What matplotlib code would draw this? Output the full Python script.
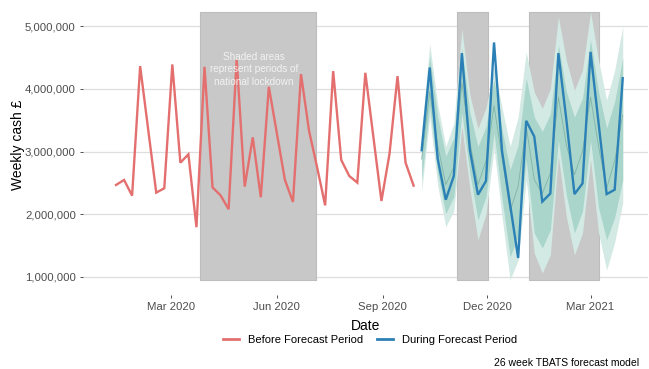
#*******************************************************************************
#plot.py
#*******************************************************************************
#Weekly cash before and during a 26 week TBATS forecast period, with national
#lockdown periods shaded.

import numpy
import pandas
import matplotlib
matplotlib.use('Agg')
import matplotlib.pyplot as plt
import matplotlib.ticker as mticker
from matplotlib.lines import Line2D

plt.rcParams['font.family']=['Liberation Sans','DejaVu Sans']


#*******************************************************************************
#Data (values in millions of pounds, weekly)
#*******************************************************************************
YS_before_start='2020-01-13'
ZV_before=[2.466,2.546,2.296,4.363,3.350,2.344,2.413,4.390,2.822,2.955,
           1.792,4.351,2.427,2.300,2.079,4.469,2.440,3.226,2.270,4.033,
           3.290,2.546,2.195,4.235,3.330,2.750,2.140,4.283,2.865,2.610,
           2.503,4.256,3.230,2.211,2.960,4.203,2.822,2.455]

YS_during_start='2020-10-05'
ZV_during=[3.02,4.34,2.88,2.23,2.61,4.57,3.02,2.31,2.53,4.74,
           3.00,2.15,1.30,3.49,3.24,2.20,2.33,4.57,3.50,2.32,
           2.49,4.59,3.45,2.32,2.39,4.17]
ZV_mean  =[2.88,3.95,3.10,2.47,2.75,4.10,3.15,2.47,2.85,3.73,
           2.90,2.05,2.45,3.40,2.55,2.33,2.65,3.87,3.10,2.63,
           3.00,3.87,3.08,2.41,2.85,3.58]
ZV_lo95  =[2.36,3.55,2.45,1.80,2.05,3.40,2.40,1.59,2.00,3.05,
           1.95,0.95,1.27,2.55,1.38,1.06,1.35,2.92,1.95,1.35,
           1.70,2.87,1.70,1.11,1.55,2.18]
ZV_lo80  =[2.55,3.72,2.65,2.01,2.28,3.62,2.65,1.91,2.28,3.30,
           2.25,1.32,1.65,2.87,1.70,1.46,1.75,3.18,2.30,1.70,
           2.05,3.18,2.10,1.59,1.95,2.55]
ZV_hi80  =[3.18,4.52,3.55,2.92,3.22,4.65,3.62,3.08,3.40,4.15,
           3.35,2.71,3.10,4.17,3.55,3.32,3.60,4.70,3.95,3.55,
           3.85,4.78,3.95,3.37,3.80,4.49]
ZV_hi95  =[3.32,4.72,3.75,3.08,3.45,4.96,3.90,3.37,3.70,4.35,
           3.70,3.08,3.55,4.59,3.95,3.69,4.00,5.15,4.45,3.98,
           4.30,5.23,4.45,3.82,4.30,4.99]

YV_lock_start=['2020-03-26','2020-11-05','2021-01-06']
YV_lock_end  =['2020-07-05','2020-12-02','2021-03-08']

YV_tick_dates=['2020-03-01','2020-06-01','2020-09-01','2020-12-01','2021-03-01']
YV_tick_labels=['Mar 2020','Jun 2020','Sep 2020','Dec 2020','Mar 2021']


#*******************************************************************************
#Build series
#*******************************************************************************
DV_before=pandas.date_range(YS_before_start,periods=len(ZV_before),freq='7D')
DV_during=pandas.date_range(YS_during_start,periods=len(ZV_during),freq='7D')

ZV_before=numpy.array(ZV_before)*1e6
ZV_during=numpy.array(ZV_during)*1e6
ZV_mean=numpy.array(ZV_mean)*1e6
ZV_lo95=numpy.array(ZV_lo95)*1e6
ZV_lo80=numpy.array(ZV_lo80)*1e6
ZV_hi80=numpy.array(ZV_hi80)*1e6
ZV_hi95=numpy.array(ZV_hi95)*1e6

ZS_ymin=min(ZV_lo95.min(),ZV_before.min())
ZS_ymax=max(ZV_hi95.max(),ZV_before.max())


#*******************************************************************************
#Plot
#*******************************************************************************
fig=plt.figure(figsize=(6.49,3.69),dpi=100)
ax=fig.add_axes([82.7/649,74/369,565.3/649,297/369])

for JS in range(len(YV_lock_start)):
     ax.fill_between([pandas.Timestamp(YV_lock_start[JS]),
                      pandas.Timestamp(YV_lock_end[JS])],
                     ZS_ymin,ZS_ymax,facecolor='#C8C8C8',edgecolor='#BDBDBD',
                     linewidth=0.8,zorder=1)

ax.fill_between(DV_during,ZV_lo95,ZV_hi95,color='#D3E9E4',linewidth=0,zorder=2)
ax.fill_between(DV_during,ZV_lo80,ZV_hi80,color='#A9D5CB',linewidth=0,zorder=3)
ax.plot(DV_during,ZV_mean,color='#80B3A6',linewidth=0.6,zorder=4)

ax.plot(DV_before,ZV_before,color='#E46F6F',linewidth=1.7,zorder=5,
        solid_joinstyle='miter')
ax.plot(DV_during,ZV_during,color='#2B80B5',linewidth=1.7,zorder=5,
        solid_joinstyle='miter')

ax.text(pandas.Timestamp('2020-05-12'),4.31e6,
        'Shaded areas\nrepresent periods of\nnational lockdown',
        ha='center',va='center',fontsize=7.2,color='#F2F2F2',
        linespacing=1.3,zorder=6)

ax.set_xlim(pandas.Timestamp('2019-12-15'),pandas.Timestamp('2021-04-20'))
ax.set_ylim(0.71e6,5.45e6)

ax.set_yticks([1e6,2e6,3e6,4e6,5e6])
ax.yaxis.set_major_formatter(mticker.FuncFormatter(lambda v,p:'{:,.0f}'.format(v)))
ax.set_xticks([pandas.Timestamp(d) for d in YV_tick_dates])
ax.set_xticklabels(YV_tick_labels)

ax.grid(axis='y',color='#DEDEDE',linewidth=0.9,zorder=0)
ax.set_axisbelow(True)
for s in ax.spines.values():
     s.set_visible(False)
ax.tick_params(axis='both',colors='#333333',labelcolor='#4D4D4D',
               labelsize=8.2,length=2.5,width=0.6,pad=2.5)

ax.set_xlabel('Date',fontsize=10,color='black')
ax.xaxis.set_label_coords(0.5,-0.08)
ax.set_ylabel('Weekly cash £',fontsize=10,color='black')
ax.yaxis.set_label_coords(-0.102,0.505)

IV_handles=[Line2D([],[],color='#E46F6F',linewidth=2),
            Line2D([],[],color='#2B80B5',linewidth=2)]
fig.legend(IV_handles,['Before Forecast Period','During Forecast Period'],
           loc='center',bbox_to_anchor=(370/649,1-340/369),ncol=2,
           frameon=False,fontsize=8,handlelength=1.5,handletextpad=0.8,
           columnspacing=1.2)

fig.text(639/649,1-363/369,'26 week TBATS forecast model',ha='right',
         va='center',fontsize=7.5,color='black')

plt.savefig('out.png',dpi=100)
